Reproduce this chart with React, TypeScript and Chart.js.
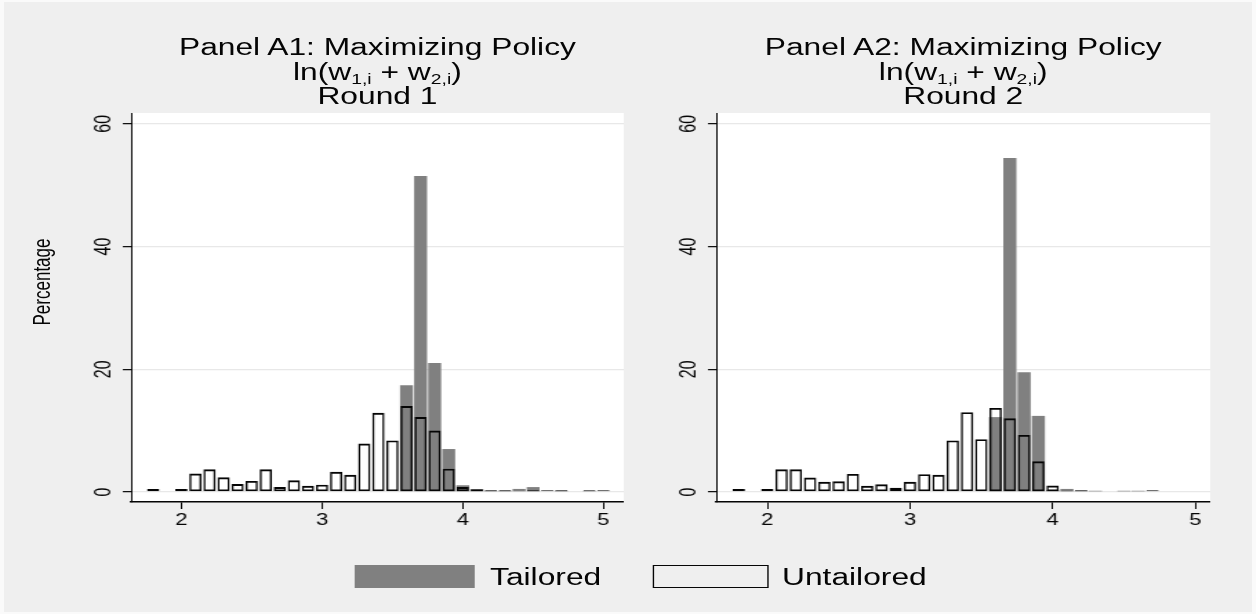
import React, { useEffect, useRef } from 'react';
import { Chart, registerables } from 'chart.js';

Chart.register(...registerables);

// ---- data (bin centres of ln(w1,i + w2,i), percentage of subjects) ----
const BINS = [1.8, 1.9, 2.0, 2.1, 2.2, 2.3, 2.4, 2.5, 2.6, 2.7, 2.8, 2.9, 3.0, 3.1, 3.2, 3.3, 3.4, 3.5, 3.6, 3.7, 3.8, 3.9, 4.0, 4.1, 4.2, 4.3, 4.4, 4.5, 4.6, 4.7, 4.8, 4.9, 5.0];

const R1_TAILORED = [0, 0, 0, 0, 0, 0, 0, 0, 0, 0, 0, 0, 0, 0, 0, 0, 0, 0, 17.4, 51.5, 21.0, 7.0, 1.1, 0.45, 0.2, 0.2, 0.5, 0.8, 0, 0.2, 0, 0.15, 0];
const R1_UNTAILORED = [0.5, 0, 0.5, 3.0, 3.7, 2.4, 1.3, 1.8, 3.7, 0.8, 1.9, 1.0, 1.2, 3.3, 2.8, 7.9, 12.9, 8.4, 14.0, 12.2, 10.0, 3.8, 0.8, 0.45, 0.3, 0.3, 0, 0.3, 0.3, 0.3, 0, 0.3, 0.3];
const R2_TAILORED = [0, 0, 0, 0, 0, 0, 0, 0, 0, 0, 0, 0, 0, 0, 0, 0, 0, 0, 12.2, 54.4, 19.5, 12.4, 0.3, 0.5, 0.2, 0.2, 0, 0.2, 0.2, 0, 0, 0, 0];
const R2_UNTAILORED = [0.5, 0, 0.5, 3.7, 3.7, 2.35, 1.65, 1.75, 2.95, 1.0, 1.25, 0.7, 1.65, 2.9, 2.8, 8.4, 13.0, 8.6, 13.7, 12.0, 9.3, 5.0, 1.05, 0.2, 0.3, 0, 0, 0, 0, 0.3, 0, 0, 0];

const X_TICKS = [2, 3, 4, 5];
const Y_TICKS = [0, 20, 40, 60];
const SERIES = ['Tailored', 'Untailored'];
const PANEL_TITLES = ['Panel A1: Maximizing Policy', 'Panel A2: Maximizing Policy'];
const ROUND_TITLES = ['Round 1', 'Round 2'];
const Y_TITLE = 'Percentage';

// ---- style / layout ----
const STRETCH = 1.38; // the original graph is horizontally stretched
const DESIGN_W = 1256 / STRETCH;
const FONT = "'Liberation Sans', Arial, Helvetica, sans-serif";
const GRAY = '#808080';
const INK = '#050505';
const PAGE_BG = '#efefef';

const plotBg = {
  id: 'plotBg',
  beforeDraw(chart: any) {
    const a = chart.chartArea;
    const c = chart.ctx;
    c.save();
    c.fillStyle = '#ffffff';
    c.fillRect(a.left, a.top, a.right - a.left, a.bottom - a.top);
    c.restore();
  },
};

type PanelProps = {
  tailored: number[];
  untailored: number[];
  xMin: number;
  xMax: number;
  left: number;
  top: number;
  width: number;
  height: number;
};

function Panel(p: PanelProps) {
  const ref = useRef<HTMLCanvasElement>(null);
  useEffect(() => {
    const chart = new Chart(ref.current as HTMLCanvasElement, {
      type: 'bar',
      data: {
        datasets: [
          {
            label: SERIES[1],
            data: BINS.map((b, i) => ({ x: b, y: p.untailored[i] })),
            backgroundColor: 'rgba(0,0,0,0)',
            borderColor: INK,
            borderWidth: { top: 1.9, bottom: 1.9, left: 1.45, right: 1.45 },
            borderSkipped: false,
            barPercentage: 0.87,
            categoryPercentage: 1,
            grouped: false,
            inflateAmount: 0,
            order: 1,
          } as any,
          {
            label: SERIES[0],
            data: BINS.map((b, i) => ({ x: b, y: p.tailored[i] })),
            backgroundColor: GRAY,
            borderWidth: 0,
            barPercentage: 0.92,
            categoryPercentage: 1,
            grouped: false,
            inflateAmount: 0,
            order: 2,
          } as any,
        ],
      },
      options: {
        animation: false,
        responsive: true,
        maintainAspectRatio: false,
        layout: { padding: { top: 20, left: 0, right: 0, bottom: 0 } },
        plugins: { legend: { display: false }, tooltip: { enabled: false }, title: { display: false } },
        scales: {
          x: {
            type: 'linear',
            min: p.xMin,
            max: p.xMax,
            offset: false,
            afterBuildTicks: (s: any) => {
              s.ticks = X_TICKS.map((v) => ({ value: v }));
            },
            afterFit: (s: any) => {
              s.height = 30;
            },
            grid: {
              display: true,
              offset: false,
              drawOnChartArea: false,
              drawTicks: true,
              tickLength: 7,
              tickColor: INK,
              tickWidth: 1,
            },
            border: { display: true, color: INK, width: 1.4 },
            ticks: {
              font: { family: FONT, size: 16 },
              color: INK,
              padding: 2,
              maxRotation: 0,
              minRotation: 0,
              autoSkip: false,
            },
          },
          y: {
            type: 'linear',
            min: -1.63,
            max: 61.75,
            afterBuildTicks: (s: any) => {
              s.ticks = Y_TICKS.map((v) => ({ value: v }));
            },
            afterFit: (s: any) => {
              s.width = 40;
            },
            grid: {
              display: true,
              drawOnChartArea: true,
              drawTicks: true,
              tickLength: 6,
              color: '#e8e8e8',
              lineWidth: 1.3,
              tickColor: INK,
              tickWidth: 1.2,
            },
            border: { display: true, color: INK, width: 1 },
            ticks: {
              font: { family: FONT, size: 16 },
              color: INK,
              padding: 5,
              minRotation: 90,
              maxRotation: 90,
              crossAlign: 'center',
              autoSkip: false,
            },
          },
        },
      } as any,
      plugins: [plotBg],
    });
    return () => chart.destroy();
  }, []);
  return (
    <div style={{ position: 'absolute', left: p.left, top: p.top, width: p.width, height: p.height }}>
      <canvas ref={ref} />
    </div>
  );
}

function Title({ center, idx }: { center: number; idx: number }) {
  const line: React.CSSProperties = {
    position: 'absolute',
    left: center - 230,
    width: 460,
    textAlign: 'center',
    fontSize: 23,
    lineHeight: '23px',
    whiteSpace: 'nowrap',
  };
  const sub: React.CSSProperties = { fontSize: 14, position: 'relative', top: 4 };
  return (
    <>
      <div style={{ ...line, top: 35.5 }}>{PANEL_TITLES[idx]}</div>
      <div style={{ ...line, top: 60.5 }}>
        ln(w<span style={sub}>1,i</span> + w<span style={sub}>2,i</span>)
      </div>
      <div style={{ ...line, top: 84.5 }}>{ROUND_TITLES[idx]}</div>
    </>
  );
}

export default function App() {
  return (
    <div
      style={{
        position: 'absolute',
        left: 0,
        top: 0,
        width: 1256,
        height: 614,
        background: '#fafafa',
        overflow: 'hidden',
        fontFamily: FONT,
        color: INK,
      }}
    >
      <div style={{ position: 'absolute', left: 4, top: 2, right: 4, bottom: 2, background: PAGE_BG }} />
      <div
        style={{
          position: 'absolute',
          left: 0,
          top: 0,
          width: DESIGN_W,
          height: 614,
          transform: `scaleX(${STRETCH})`,
          transformOrigin: '0 0',
        }}
      >
        <Title center={273.5} idx={0} />
        <Title center={698} idx={1} />
        <div
          style={{
            position: 'absolute',
            left: 31,
            top: 281.7,
            transform: 'translate(-50%, -50%) rotate(-90deg)',
            fontSize: 17,
            lineHeight: '17px',
            whiteSpace: 'nowrap',
          }}
        >
          {Y_TITLE}
        </div>
        <Panel tailored={R1_TAILORED} untailored={R1_UNTAILORED} xMin={1.643} xMax={5.144} left={55} top={93} width={397} height={439} />
        <Panel tailored={R2_TAILORED} untailored={R2_UNTAILORED} xMin={1.642} xMax={5.105} left={479} top={93} width={398} height={439} />
        {/* legend */}
        <div style={{ position: 'absolute', left: 256.5, top: 565, width: 87, height: 23, background: GRAY }} />
        <div style={{ position: 'absolute', left: 355.1, top: 566, fontSize: 23, lineHeight: '23px', whiteSpace: 'nowrap' }}>{SERIES[0]}</div>
        <div
          style={{
            position: 'absolute',
            left: 473.2,
            top: 565,
            width: 84,
            height: 23,
            boxSizing: 'border-box',
            borderStyle: 'solid',
            borderColor: INK,
            borderWidth: '1.9px 1.4px',
            background: 'transparent',
          }}
        />
        <div style={{ position: 'absolute', left: 566.7, top: 566, fontSize: 23, lineHeight: '23px', whiteSpace: 'nowrap' }}>{SERIES[1]}</div>
      </div>
    </div>
  );
}
